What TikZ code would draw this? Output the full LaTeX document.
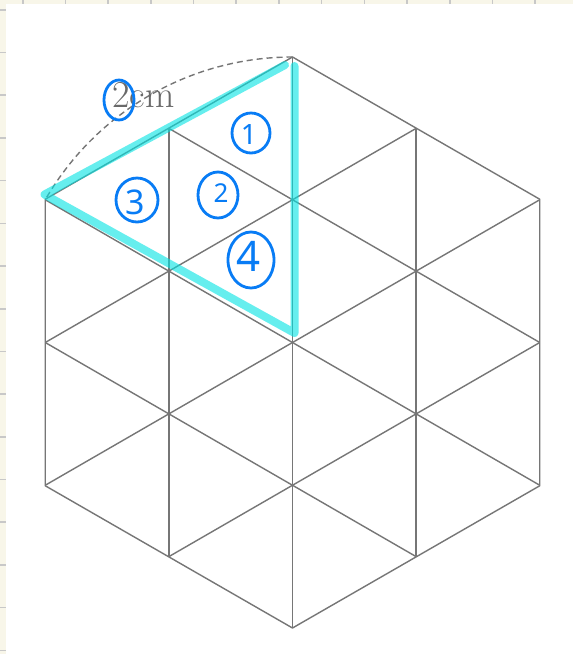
\documentclass[tikz,border=0pt]{standalone}
\usepackage{fontspec}
\newfontfamily\handfont{Noto Sans}
\definecolor{paper}{RGB}{248,246,233}
\definecolor{tickgray}{RGB}{200,200,200}
\definecolor{gridgray}{RGB}{118,118,118}
\definecolor{textgray}{RGB}{105,105,105}
\definecolor{hl}{RGB}{0,228,228}
\definecolor{pen}{RGB}{8,124,245}
\tikzset{
  gridline/.style={draw=gridgray, line width=1.4},
  arcline/.style={draw=gridgray, line width=1.4, dash pattern=on 6 off 4},
  highlight/.style={draw=hl, draw opacity=0.6, line width=8, line cap=round, line join=round},
  penring/.style={draw=pen, line width=2.8},
  digit/.style={text=pen, inner sep=0, font=\handfont\bfseries\fontsize{#1}{#1}\selectfont},
  cmtext/.style={text=textgray, inner sep=0, font=\fontsize{38}{38}\selectfont}
}
\begin{document}
\begin{tikzpicture}[x=1pt,y=-1pt]
\useasboundingbox (0,0) rectangle (573,654);
% paper background
\fill[paper] (0,0) rectangle (573,654);
\fill[white] (6,3.5) rectangle (573,654);
\foreach \i in {0,...,12} \fill[tickgray] ({22.7+42.7*\i-0.8},0) rectangle ++(1.6,3.5);
\foreach \i in {0,...,15} \fill[tickgray] (0,{9.8+42.7*\i-0.8}) rectangle ++(6,1.6);
% hexagon vertices
\coordinate (T)  at (292.5,57);
\coordinate (UL) at (45.24,199.25);
\coordinate (LL) at (45.24,485.75);
\coordinate (B)  at (292.5,628);
\coordinate (LR) at (539.76,485.75);
\coordinate (UR) at (539.76,199.25);
\coordinate (O)  at (292.5,342.5);
% interior triangular grid
\begin{scope}
  \clip (T)--(UL)--(LL)--(B)--(LR)--(UR)--cycle;
  \foreach \k in {-1,0,1} {
    \draw[gridline] ({292.5+123.63*\k},0) -- ++(0,654);
    \draw[gridline] (0,{342.5+142.75*\k+292.5*0.57735}) -- (573,{342.5+142.75*\k-280.5*0.57735});
    \draw[gridline] (0,{342.5+142.75*\k-292.5*0.57735}) -- (573,{342.5+142.75*\k+280.5*0.57735});
  }
\end{scope}
\draw[gridline, line join=round] (T)--(UL)--(LL)--(B)--(LR)--(UR)--cycle;
% dashed arc of radius 2cm
\draw[arcline] (T) arc[start angle=270, end angle=210, radius=285.5];
\node[cmtext, anchor=base west] (lbl) at (112,107) {2cm};
% highlighted big triangle
\coordinate (c1) at (285,65);
\coordinate (c2) at (44.5,194.5);
\coordinate (c3) at (294.5,333);
\coordinate (c4) at (294.5,66);
\draw[highlight] (c1) -- (c2) -- (c3) -- (c4);
% handwritten circled numbers
\draw[penring] (119,100) ellipse[x radius=15, y radius=20];
\node[digit=28] (d1) at (249,134) {1};
\draw[penring] (251,133) ellipse[x radius=19, y radius=20];
\node[digit=26] (d2) at (221,193) {2};
\draw[penring] (218,195) ellipse[x radius=20, y radius=23];
\node[digit=34] (d3) at (135,202) {3};
\draw[penring] (137,200) ellipse[x radius=21, y radius=22];
\node[digit=42] (d4) at (249,256) {4};
\draw[penring] (251,260) ellipse[x radius=23, y radius=28];
\end{tikzpicture}
\end{document}
